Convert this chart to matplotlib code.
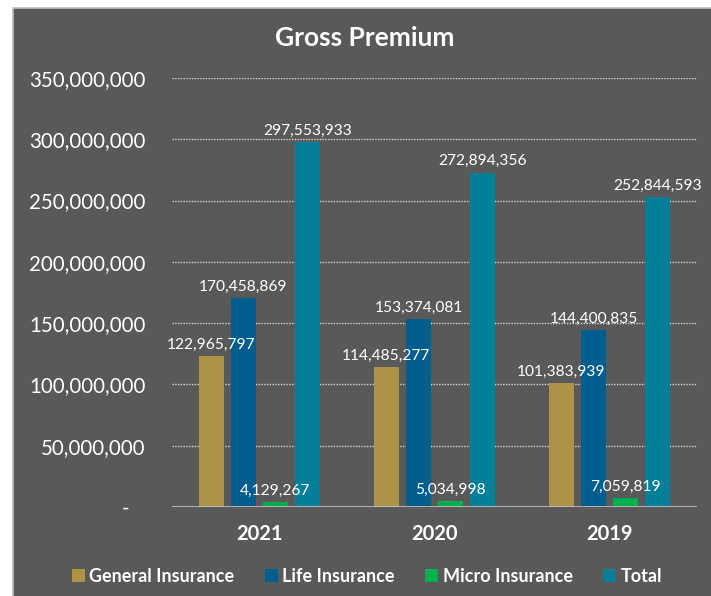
import matplotlib.pyplot as plt
import numpy as np
from matplotlib.patches import Rectangle

# data
years = ["2021", "2020", "2019"]
series = ["General Insurance", "Life Insurance", "Micro Insurance", "Total"]
general = [122965797, 114485277, 101383939]
life = [170458869, 153374081, 144400835]
micro = [4129267, 5034998, 7059819]
total = [297553933, 272894356, 252844593]
yticks = [0, 50000000, 100000000, 150000000, 200000000, 250000000, 300000000, 350000000]

colors = ["#AE9346", "#005E8E", "#00B050", "#057E97"]
bg = "#595959"
plt.rcParams['font.family'] = ['Lato', 'DejaVu Sans']

fig = plt.figure(figsize=(7.11, 5.96), dpi=100)
fig.patch.set_facecolor("white")
# dark panel with thin grey border
fig.patches.append(Rectangle((13/711, -0.01), 1, 1.01 - 8/596, transform=fig.transFigure,
                             facecolor=bg, edgecolor="#BDBDBD", linewidth=1.2, zorder=-10))

ax = fig.add_axes([172/711, 89/596, 525/711, (507-78)/596])
ax.patch.set_alpha(0)

x = np.arange(len(years))
w = 0.143
step = 0.183
offsets = [-1.5 * step, -0.5 * step, 0.5 * step, 1.5 * step]
for vals, name, c, off in zip([general, life, micro, total], series, colors, offsets):
    bars = ax.bar(x + off, vals, w, color=c, label=name, zorder=3)
    for b, v in zip(bars, vals):
        ax.annotate(f"{v:,}", (b.get_x() + b.get_width() / 2, v), xytext=(0, 3),
                    textcoords="offset points", ha="center", va="bottom",
                    color="white", fontsize=11.2, zorder=4)

ax.set_xlim(-0.5, 2.5)
ax.set_ylim(0, 350000000)
ax.set_xticks(x)
ax.set_xticklabels(years, color="white", fontsize=14.5, fontweight="bold")
ax.set_yticks(yticks)
ax.set_yticklabels(["-   "] + [f"{v:,}" for v in yticks[1:]], color="white", fontsize=14.8)
ax.tick_params(length=0)
ax.tick_params(axis="y", pad=19)
ax.tick_params(axis="x", pad=12)
for s in ax.spines.values():
    s.set_visible(False)
for v in yticks[1:]:
    ax.axhline(v, color="#D9D9D9", linestyle=(0, (1, 1)), linewidth=1, zorder=1)
ax.axhline(0, color="#BFBFBF", linewidth=2, zorder=5)

fig.text(365/711, 1 - 38/596, "Gross Premium", ha="center", va="center",
         color="white", fontsize=19, fontweight="bold")

leg = fig.legend(loc="center", bbox_to_anchor=(367/711, 1 - 576/596), ncol=4,
                 frameon=False, handlelength=0.7, handleheight=0.7, handletextpad=0.25,
                 columnspacing=1.7, prop={"weight": "bold", "size": 13})
for t in leg.get_texts():
    t.set_color("white")

fig.savefig("out.png", dpi=100, facecolor=fig.get_facecolor())
